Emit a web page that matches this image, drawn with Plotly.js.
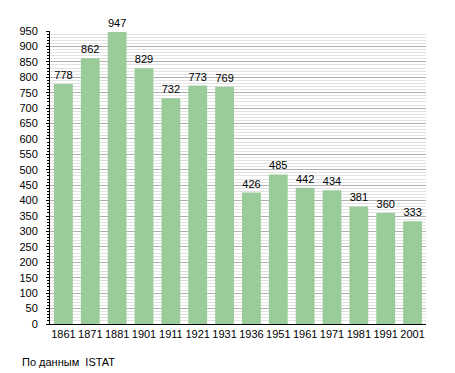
<!DOCTYPE html>
<html><head><meta charset="utf-8">
<script src="https://cdn.plot.ly/plotly-3.0.1.min.js"></script>
<style>html,body{margin:0;padding:0;background:#fff}</style>
</head><body>
<div id="chart" style="width:455px;height:373px"></div>
<script>
const years = ["1861","1871","1881","1901","1911","1921","1931","1936","1951","1961","1971","1981","1991","2001"];
const population = [778,862,947,829,732,773,769,426,485,442,434,381,360,333];
const yTicks = [0,50,100,150,200,250,300,350,400,450,500,550,600,650,700,750,800,850,900,950];

const trace = {
  type: 'bar', x: years, y: population,
  text: population.map(String), textposition: 'outside', cliponaxis: false,
  textfont: {family: 'Liberation Sans, Arial, sans-serif', size: 11, color: '#000'},
  marker: {color: '#99cc99', line: {width: 0}},
  hoverinfo: 'none'
};
const layout = {
  width: 455, height: 373,
  margin: {l: 50, r: 29, t: 31, b: 49},
  paper_bgcolor: '#fff', plot_bgcolor: '#fff',
  font: {family: 'Liberation Sans, Arial, sans-serif', size: 11, color: '#000'},
  bargap: 0.3,
  showlegend: false,
  xaxis: {type: 'category', showline: true, linecolor: '#000', linewidth: 1, ticks: '', showgrid: false, tickfont: {size: 11}},
  yaxis: {range: [0, 950], tickvals: yTicks, ticktext: yTicks.map(String), showline: true, linecolor: '#000', linewidth: 1,
    ticks: 'outside', ticklen: 3, tickcolor: '#000', gridcolor: '#b0b0b0', gridwidth: 1, zeroline: false, fixedrange: true,
    ticklabelstandoff: 6,
    minor: {dtick: 10, showgrid: true, gridcolor: '#e2e2e2', ticks: 'outside', ticklen: 2, tickcolor: '#000'}},
  annotations: [{text: 'По данным  ISTAT', xref: 'paper', yref: 'paper', x: -30/376, y: -38/293, xanchor: 'left', yanchor: 'middle', showarrow: false, font: {size: 11}}]
};
Plotly.newPlot('chart', [trace], layout, {staticPlot: true});
</script>
</body></html>
